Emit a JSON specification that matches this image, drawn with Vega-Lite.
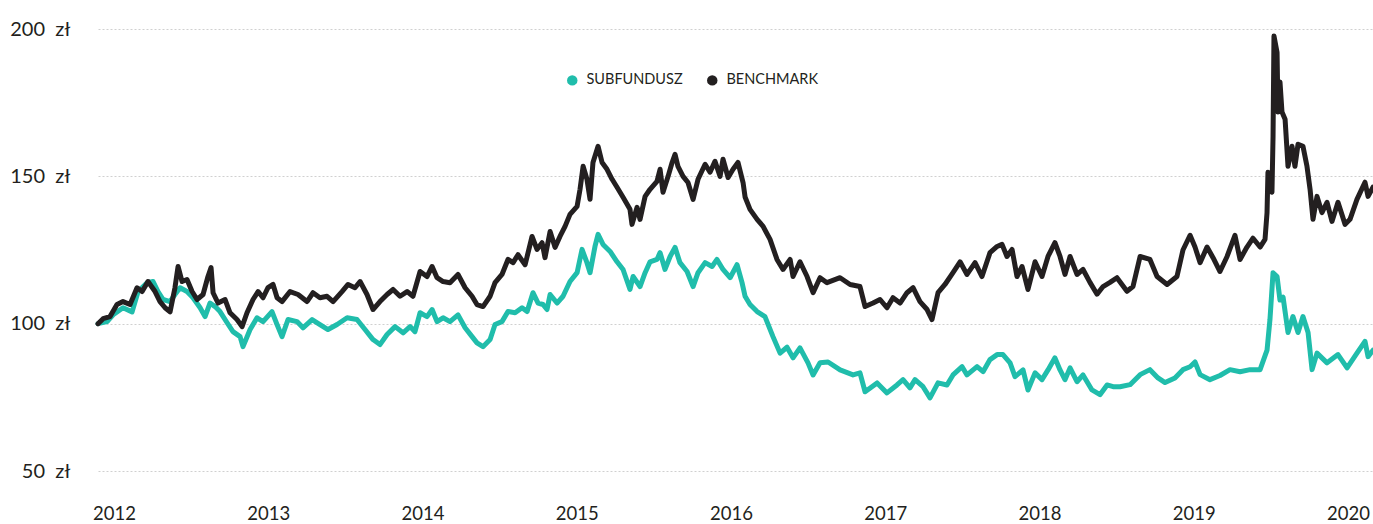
{
  "$schema": "https://vega.github.io/schema/vega-lite/v6.json",
  "width": 1275,
  "height": 442,
  "autosize": {"type": "none"},
  "padding": {"left": 98, "top": 29, "right": 0, "bottom": 53},
  "background": "white",
  "config": {
    "view": {"stroke": null},
    "font": "Lato",
    "axis": {"labelFont": "Lato", "labelColor": "#231f20", "domain": false, "ticks": false, "title": null}
  },
  "data": {"values": [
    {"s":"SUBFUNDUSZ","t":2011.896,"v":100},
    {"s":"SUBFUNDUSZ","t":2011.955,"v":100.7},
    {"s":"SUBFUNDUSZ","t":2011.994,"v":103},
    {"s":"SUBFUNDUSZ","t":2012.058,"v":105.4},
    {"s":"SUBFUNDUSZ","t":2012.117,"v":104},
    {"s":"SUBFUNDUSZ","t":2012.156,"v":110.9},
    {"s":"SUBFUNDUSZ","t":2012.214,"v":113.9},
    {"s":"SUBFUNDUSZ","t":2012.253,"v":114.3},
    {"s":"SUBFUNDUSZ","t":2012.285,"v":110.9},
    {"s":"SUBFUNDUSZ","t":2012.318,"v":108.2},
    {"s":"SUBFUNDUSZ","t":2012.363,"v":107.5},
    {"s":"SUBFUNDUSZ","t":2012.395,"v":109.9},
    {"s":"SUBFUNDUSZ","t":2012.428,"v":112.2},
    {"s":"SUBFUNDUSZ","t":2012.473,"v":110.9},
    {"s":"SUBFUNDUSZ","t":2012.512,"v":108.8},
    {"s":"SUBFUNDUSZ","t":2012.558,"v":105.4},
    {"s":"SUBFUNDUSZ","t":2012.590,"v":102.4},
    {"s":"SUBFUNDUSZ","t":2012.622,"v":107},
    {"s":"SUBFUNDUSZ","t":2012.655,"v":105.8},
    {"s":"SUBFUNDUSZ","t":2012.687,"v":104.1},
    {"s":"SUBFUNDUSZ","t":2012.733,"v":100.3},
    {"s":"SUBFUNDUSZ","t":2012.771,"v":97.3},
    {"s":"SUBFUNDUSZ","t":2012.817,"v":95.6},
    {"s":"SUBFUNDUSZ","t":2012.836,"v":92.2},
    {"s":"SUBFUNDUSZ","t":2012.882,"v":98},
    {"s":"SUBFUNDUSZ","t":2012.927,"v":102},
    {"s":"SUBFUNDUSZ","t":2012.966,"v":100.7},
    {"s":"SUBFUNDUSZ","t":2013.024,"v":104.1},
    {"s":"SUBFUNDUSZ","t":2013.057,"v":99.7},
    {"s":"SUBFUNDUSZ","t":2013.089,"v":95.6},
    {"s":"SUBFUNDUSZ","t":2013.128,"v":101.4},
    {"s":"SUBFUNDUSZ","t":2013.186,"v":100.7},
    {"s":"SUBFUNDUSZ","t":2013.225,"v":98.6},
    {"s":"SUBFUNDUSZ","t":2013.284,"v":101.4},
    {"s":"SUBFUNDUSZ","t":2013.335,"v":99.7},
    {"s":"SUBFUNDUSZ","t":2013.387,"v":98},
    {"s":"SUBFUNDUSZ","t":2013.446,"v":99.7},
    {"s":"SUBFUNDUSZ","t":2013.511,"v":102},
    {"s":"SUBFUNDUSZ","t":2013.575,"v":101.4},
    {"s":"SUBFUNDUSZ","t":2013.627,"v":98},
    {"s":"SUBFUNDUSZ","t":2013.679,"v":94.6},
    {"s":"SUBFUNDUSZ","t":2013.724,"v":92.9},
    {"s":"SUBFUNDUSZ","t":2013.770,"v":96.3},
    {"s":"SUBFUNDUSZ","t":2013.822,"v":99},
    {"s":"SUBFUNDUSZ","t":2013.874,"v":96.9},
    {"s":"SUBFUNDUSZ","t":2013.919,"v":99},
    {"s":"SUBFUNDUSZ","t":2013.951,"v":97.3},
    {"s":"SUBFUNDUSZ","t":2013.984,"v":103.7},
    {"s":"SUBFUNDUSZ","t":2014.029,"v":102.4},
    {"s":"SUBFUNDUSZ","t":2014.062,"v":104.8},
    {"s":"SUBFUNDUSZ","t":2014.094,"v":100.7},
    {"s":"SUBFUNDUSZ","t":2014.133,"v":102},
    {"s":"SUBFUNDUSZ","t":2014.178,"v":100.7},
    {"s":"SUBFUNDUSZ","t":2014.230,"v":103},
    {"s":"SUBFUNDUSZ","t":2014.276,"v":98.6},
    {"s":"SUBFUNDUSZ","t":2014.321,"v":95.6},
    {"s":"SUBFUNDUSZ","t":2014.353,"v":93.5},
    {"s":"SUBFUNDUSZ","t":2014.392,"v":92.2},
    {"s":"SUBFUNDUSZ","t":2014.438,"v":94.6},
    {"s":"SUBFUNDUSZ","t":2014.470,"v":99.7},
    {"s":"SUBFUNDUSZ","t":2014.515,"v":100.7},
    {"s":"SUBFUNDUSZ","t":2014.554,"v":104.1},
    {"s":"SUBFUNDUSZ","t":2014.600,"v":103.7},
    {"s":"SUBFUNDUSZ","t":2014.645,"v":105.4},
    {"s":"SUBFUNDUSZ","t":2014.678,"v":104.1},
    {"s":"SUBFUNDUSZ","t":2014.716,"v":110.5},
    {"s":"SUBFUNDUSZ","t":2014.749,"v":107},
    {"s":"SUBFUNDUSZ","t":2014.781,"v":106.5},
    {"s":"SUBFUNDUSZ","t":2014.807,"v":104.8},
    {"s":"SUBFUNDUSZ","t":2014.827,"v":109.9},
    {"s":"SUBFUNDUSZ","t":2014.872,"v":107},
    {"s":"SUBFUNDUSZ","t":2014.911,"v":109.3},
    {"s":"SUBFUNDUSZ","t":2014.956,"v":114.3},
    {"s":"SUBFUNDUSZ","t":2015.002,"v":117.3},
    {"s":"SUBFUNDUSZ","t":2015.034,"v":125.2},
    {"s":"SUBFUNDUSZ","t":2015.066,"v":120.7},
    {"s":"SUBFUNDUSZ","t":2015.086,"v":117.3},
    {"s":"SUBFUNDUSZ","t":2015.118,"v":126.2},
    {"s":"SUBFUNDUSZ","t":2015.138,"v":130.3},
    {"s":"SUBFUNDUSZ","t":2015.170,"v":126.9},
    {"s":"SUBFUNDUSZ","t":2015.216,"v":124.5},
    {"s":"SUBFUNDUSZ","t":2015.261,"v":121},
    {"s":"SUBFUNDUSZ","t":2015.300,"v":118.4},
    {"s":"SUBFUNDUSZ","t":2015.345,"v":111.6},
    {"s":"SUBFUNDUSZ","t":2015.365,"v":116},
    {"s":"SUBFUNDUSZ","t":2015.410,"v":112.6},
    {"s":"SUBFUNDUSZ","t":2015.443,"v":117.3},
    {"s":"SUBFUNDUSZ","t":2015.475,"v":121},
    {"s":"SUBFUNDUSZ","t":2015.520,"v":121.8},
    {"s":"SUBFUNDUSZ","t":2015.540,"v":124.1},
    {"s":"SUBFUNDUSZ","t":2015.572,"v":118.4},
    {"s":"SUBFUNDUSZ","t":2015.605,"v":122.8},
    {"s":"SUBFUNDUSZ","t":2015.637,"v":125.9},
    {"s":"SUBFUNDUSZ","t":2015.669,"v":120.7},
    {"s":"SUBFUNDUSZ","t":2015.715,"v":117.7},
    {"s":"SUBFUNDUSZ","t":2015.754,"v":112.6},
    {"s":"SUBFUNDUSZ","t":2015.786,"v":117.3},
    {"s":"SUBFUNDUSZ","t":2015.832,"v":120.7},
    {"s":"SUBFUNDUSZ","t":2015.877,"v":119.4},
    {"s":"SUBFUNDUSZ","t":2015.909,"v":121.8},
    {"s":"SUBFUNDUSZ","t":2015.948,"v":118.4},
    {"s":"SUBFUNDUSZ","t":2015.994,"v":115.6},
    {"s":"SUBFUNDUSZ","t":2016.039,"v":120},
    {"s":"SUBFUNDUSZ","t":2016.071,"v":114},
    {"s":"SUBFUNDUSZ","t":2016.091,"v":109.3},
    {"s":"SUBFUNDUSZ","t":2016.123,"v":106.5},
    {"s":"SUBFUNDUSZ","t":2016.169,"v":104.1},
    {"s":"SUBFUNDUSZ","t":2016.220,"v":102.4},
    {"s":"SUBFUNDUSZ","t":2016.272,"v":95.6},
    {"s":"SUBFUNDUSZ","t":2016.318,"v":90},
    {"s":"SUBFUNDUSZ","t":2016.363,"v":92},
    {"s":"SUBFUNDUSZ","t":2016.402,"v":88.4},
    {"s":"SUBFUNDUSZ","t":2016.447,"v":91.8},
    {"s":"SUBFUNDUSZ","t":2016.499,"v":86.7},
    {"s":"SUBFUNDUSZ","t":2016.532,"v":82.6},
    {"s":"SUBFUNDUSZ","t":2016.577,"v":86.7},
    {"s":"SUBFUNDUSZ","t":2016.629,"v":87},
    {"s":"SUBFUNDUSZ","t":2016.707,"v":84.3},
    {"s":"SUBFUNDUSZ","t":2016.791,"v":82.6},
    {"s":"SUBFUNDUSZ","t":2016.836,"v":83.3},
    {"s":"SUBFUNDUSZ","t":2016.869,"v":76.9},
    {"s":"SUBFUNDUSZ","t":2016.947,"v":79.9},
    {"s":"SUBFUNDUSZ","t":2017.011,"v":76.5},
    {"s":"SUBFUNDUSZ","t":2017.076,"v":79.2},
    {"s":"SUBFUNDUSZ","t":2017.115,"v":81},
    {"s":"SUBFUNDUSZ","t":2017.160,"v":78.2},
    {"s":"SUBFUNDUSZ","t":2017.193,"v":81},
    {"s":"SUBFUNDUSZ","t":2017.245,"v":78.6},
    {"s":"SUBFUNDUSZ","t":2017.290,"v":74.8},
    {"s":"SUBFUNDUSZ","t":2017.342,"v":79.9},
    {"s":"SUBFUNDUSZ","t":2017.400,"v":79.2},
    {"s":"SUBFUNDUSZ","t":2017.439,"v":82.6},
    {"s":"SUBFUNDUSZ","t":2017.498,"v":85.4},
    {"s":"SUBFUNDUSZ","t":2017.530,"v":82.6},
    {"s":"SUBFUNDUSZ","t":2017.595,"v":85.4},
    {"s":"SUBFUNDUSZ","t":2017.634,"v":83.7},
    {"s":"SUBFUNDUSZ","t":2017.679,"v":87.8},
    {"s":"SUBFUNDUSZ","t":2017.725,"v":89.5},
    {"s":"SUBFUNDUSZ","t":2017.763,"v":89.5},
    {"s":"SUBFUNDUSZ","t":2017.809,"v":86.7},
    {"s":"SUBFUNDUSZ","t":2017.841,"v":82},
    {"s":"SUBFUNDUSZ","t":2017.893,"v":84.3},
    {"s":"SUBFUNDUSZ","t":2017.925,"v":77.5},
    {"s":"SUBFUNDUSZ","t":2017.971,"v":83.3},
    {"s":"SUBFUNDUSZ","t":2018.016,"v":81},
    {"s":"SUBFUNDUSZ","t":2018.055,"v":84.3},
    {"s":"SUBFUNDUSZ","t":2018.100,"v":88.4},
    {"s":"SUBFUNDUSZ","t":2018.133,"v":84.3},
    {"s":"SUBFUNDUSZ","t":2018.165,"v":81},
    {"s":"SUBFUNDUSZ","t":2018.198,"v":85},
    {"s":"SUBFUNDUSZ","t":2018.243,"v":80.3},
    {"s":"SUBFUNDUSZ","t":2018.282,"v":82.6},
    {"s":"SUBFUNDUSZ","t":2018.340,"v":77.5},
    {"s":"SUBFUNDUSZ","t":2018.392,"v":75.9},
    {"s":"SUBFUNDUSZ","t":2018.438,"v":79.2},
    {"s":"SUBFUNDUSZ","t":2018.477,"v":78.6},
    {"s":"SUBFUNDUSZ","t":2018.522,"v":78.6},
    {"s":"SUBFUNDUSZ","t":2018.587,"v":79.3},
    {"s":"SUBFUNDUSZ","t":2018.652,"v":82.7},
    {"s":"SUBFUNDUSZ","t":2018.716,"v":84.4},
    {"s":"SUBFUNDUSZ","t":2018.768,"v":81.6},
    {"s":"SUBFUNDUSZ","t":2018.814,"v":80},
    {"s":"SUBFUNDUSZ","t":2018.878,"v":81.6},
    {"s":"SUBFUNDUSZ","t":2018.930,"v":84.4},
    {"s":"SUBFUNDUSZ","t":2018.976,"v":85.4},
    {"s":"SUBFUNDUSZ","t":2019.008,"v":87},
    {"s":"SUBFUNDUSZ","t":2019.041,"v":82.7},
    {"s":"SUBFUNDUSZ","t":2019.105,"v":81},
    {"s":"SUBFUNDUSZ","t":2019.170,"v":82.4},
    {"s":"SUBFUNDUSZ","t":2019.235,"v":84.4},
    {"s":"SUBFUNDUSZ","t":2019.300,"v":83.7},
    {"s":"SUBFUNDUSZ","t":2019.365,"v":84.4},
    {"s":"SUBFUNDUSZ","t":2019.430,"v":84.4},
    {"s":"SUBFUNDUSZ","t":2019.475,"v":91},
    {"s":"SUBFUNDUSZ","t":2019.494,"v":101.4},
    {"s":"SUBFUNDUSZ","t":2019.514,"v":117.3},
    {"s":"SUBFUNDUSZ","t":2019.540,"v":116},
    {"s":"SUBFUNDUSZ","t":2019.559,"v":108},
    {"s":"SUBFUNDUSZ","t":2019.579,"v":109},
    {"s":"SUBFUNDUSZ","t":2019.611,"v":97},
    {"s":"SUBFUNDUSZ","t":2019.643,"v":102.4},
    {"s":"SUBFUNDUSZ","t":2019.676,"v":97},
    {"s":"SUBFUNDUSZ","t":2019.708,"v":102.4},
    {"s":"SUBFUNDUSZ","t":2019.741,"v":97},
    {"s":"SUBFUNDUSZ","t":2019.767,"v":84.4},
    {"s":"SUBFUNDUSZ","t":2019.799,"v":90},
    {"s":"SUBFUNDUSZ","t":2019.864,"v":86.7},
    {"s":"SUBFUNDUSZ","t":2019.935,"v":89.5},
    {"s":"SUBFUNDUSZ","t":2019.994,"v":85},
    {"s":"SUBFUNDUSZ","t":2020.058,"v":90},
    {"s":"SUBFUNDUSZ","t":2020.110,"v":94},
    {"s":"SUBFUNDUSZ","t":2020.130,"v":88.8},
    {"s":"SUBFUNDUSZ","t":2020.162,"v":91},
    {"s":"BENCHMARK","t":2011.896,"v":100},
    {"s":"BENCHMARK","t":2011.929,"v":101.7},
    {"s":"BENCHMARK","t":2011.974,"v":102.4},
    {"s":"BENCHMARK","t":2012.019,"v":106.5},
    {"s":"BENCHMARK","t":2012.058,"v":107.5},
    {"s":"BENCHMARK","t":2012.104,"v":106.5},
    {"s":"BENCHMARK","t":2012.149,"v":112.2},
    {"s":"BENCHMARK","t":2012.182,"v":110.9},
    {"s":"BENCHMARK","t":2012.220,"v":114.3},
    {"s":"BENCHMARK","t":2012.266,"v":110.9},
    {"s":"BENCHMARK","t":2012.298,"v":107.5},
    {"s":"BENCHMARK","t":2012.331,"v":105.4},
    {"s":"BENCHMARK","t":2012.363,"v":104},
    {"s":"BENCHMARK","t":2012.395,"v":112.2},
    {"s":"BENCHMARK","t":2012.415,"v":119.4},
    {"s":"BENCHMARK","t":2012.441,"v":114.3},
    {"s":"BENCHMARK","t":2012.473,"v":115},
    {"s":"BENCHMARK","t":2012.506,"v":110.9},
    {"s":"BENCHMARK","t":2012.538,"v":108.2},
    {"s":"BENCHMARK","t":2012.577,"v":109.9},
    {"s":"BENCHMARK","t":2012.609,"v":116},
    {"s":"BENCHMARK","t":2012.629,"v":119},
    {"s":"BENCHMARK","t":2012.642,"v":110.5},
    {"s":"BENCHMARK","t":2012.674,"v":107},
    {"s":"BENCHMARK","t":2012.720,"v":108.2},
    {"s":"BENCHMARK","t":2012.752,"v":103.7},
    {"s":"BENCHMARK","t":2012.797,"v":101.4},
    {"s":"BENCHMARK","t":2012.830,"v":99},
    {"s":"BENCHMARK","t":2012.862,"v":103.7},
    {"s":"BENCHMARK","t":2012.901,"v":108.2},
    {"s":"BENCHMARK","t":2012.934,"v":110.9},
    {"s":"BENCHMARK","t":2012.966,"v":108.8},
    {"s":"BENCHMARK","t":2012.998,"v":112.2},
    {"s":"BENCHMARK","t":2013.031,"v":113.3},
    {"s":"BENCHMARK","t":2013.057,"v":108.8},
    {"s":"BENCHMARK","t":2013.089,"v":107.5},
    {"s":"BENCHMARK","t":2013.141,"v":110.9},
    {"s":"BENCHMARK","t":2013.193,"v":109.9},
    {"s":"BENCHMARK","t":2013.251,"v":107.5},
    {"s":"BENCHMARK","t":2013.290,"v":110.5},
    {"s":"BENCHMARK","t":2013.335,"v":108.8},
    {"s":"BENCHMARK","t":2013.381,"v":109.3},
    {"s":"BENCHMARK","t":2013.420,"v":107.5},
    {"s":"BENCHMARK","t":2013.478,"v":110.9},
    {"s":"BENCHMARK","t":2013.517,"v":113.3},
    {"s":"BENCHMARK","t":2013.562,"v":112.2},
    {"s":"BENCHMARK","t":2013.595,"v":114.3},
    {"s":"BENCHMARK","t":2013.640,"v":109.9},
    {"s":"BENCHMARK","t":2013.679,"v":104.8},
    {"s":"BENCHMARK","t":2013.724,"v":107.5},
    {"s":"BENCHMARK","t":2013.770,"v":109.9},
    {"s":"BENCHMARK","t":2013.809,"v":111.6},
    {"s":"BENCHMARK","t":2013.854,"v":109.3},
    {"s":"BENCHMARK","t":2013.900,"v":110.9},
    {"s":"BENCHMARK","t":2013.938,"v":109.3},
    {"s":"BENCHMARK","t":2013.984,"v":117.7},
    {"s":"BENCHMARK","t":2014.029,"v":116},
    {"s":"BENCHMARK","t":2014.062,"v":119.4},
    {"s":"BENCHMARK","t":2014.094,"v":115.6},
    {"s":"BENCHMARK","t":2014.133,"v":114.3},
    {"s":"BENCHMARK","t":2014.178,"v":113.9},
    {"s":"BENCHMARK","t":2014.230,"v":116.7},
    {"s":"BENCHMARK","t":2014.276,"v":112.2},
    {"s":"BENCHMARK","t":2014.321,"v":109.3},
    {"s":"BENCHMARK","t":2014.353,"v":106.5},
    {"s":"BENCHMARK","t":2014.392,"v":105.8},
    {"s":"BENCHMARK","t":2014.438,"v":109.3},
    {"s":"BENCHMARK","t":2014.470,"v":113.9},
    {"s":"BENCHMARK","t":2014.515,"v":116.7},
    {"s":"BENCHMARK","t":2014.554,"v":121.8},
    {"s":"BENCHMARK","t":2014.587,"v":120.7},
    {"s":"BENCHMARK","t":2014.619,"v":123.4},
    {"s":"BENCHMARK","t":2014.665,"v":120},
    {"s":"BENCHMARK","t":2014.710,"v":129.6},
    {"s":"BENCHMARK","t":2014.742,"v":125.2},
    {"s":"BENCHMARK","t":2014.775,"v":127.5},
    {"s":"BENCHMARK","t":2014.794,"v":122.4},
    {"s":"BENCHMARK","t":2014.827,"v":131.3},
    {"s":"BENCHMARK","t":2014.859,"v":125.9},
    {"s":"BENCHMARK","t":2014.891,"v":129.6},
    {"s":"BENCHMARK","t":2014.924,"v":133},
    {"s":"BENCHMARK","t":2014.956,"v":137.1},
    {"s":"BENCHMARK","t":2015.002,"v":139.8},
    {"s":"BENCHMARK","t":2015.021,"v":145.6},
    {"s":"BENCHMARK","t":2015.041,"v":153.4},
    {"s":"BENCHMARK","t":2015.066,"v":149},
    {"s":"BENCHMARK","t":2015.086,"v":142.2},
    {"s":"BENCHMARK","t":2015.105,"v":154.7},
    {"s":"BENCHMARK","t":2015.138,"v":160.2},
    {"s":"BENCHMARK","t":2015.164,"v":154.7},
    {"s":"BENCHMARK","t":2015.196,"v":152.4},
    {"s":"BENCHMARK","t":2015.229,"v":149},
    {"s":"BENCHMARK","t":2015.261,"v":146.3},
    {"s":"BENCHMARK","t":2015.300,"v":142.9},
    {"s":"BENCHMARK","t":2015.345,"v":138.8},
    {"s":"BENCHMARK","t":2015.358,"v":133.7},
    {"s":"BENCHMARK","t":2015.391,"v":139.5},
    {"s":"BENCHMARK","t":2015.410,"v":135.4},
    {"s":"BENCHMARK","t":2015.443,"v":143.2},
    {"s":"BENCHMARK","t":2015.475,"v":145.6},
    {"s":"BENCHMARK","t":2015.520,"v":148.3},
    {"s":"BENCHMARK","t":2015.540,"v":152.4},
    {"s":"BENCHMARK","t":2015.559,"v":144.6},
    {"s":"BENCHMARK","t":2015.592,"v":150},
    {"s":"BENCHMARK","t":2015.618,"v":154.7},
    {"s":"BENCHMARK","t":2015.637,"v":157.5},
    {"s":"BENCHMARK","t":2015.656,"v":153.4},
    {"s":"BENCHMARK","t":2015.689,"v":150},
    {"s":"BENCHMARK","t":2015.721,"v":147.9},
    {"s":"BENCHMARK","t":2015.754,"v":142.2},
    {"s":"BENCHMARK","t":2015.786,"v":149},
    {"s":"BENCHMARK","t":2015.832,"v":154.1},
    {"s":"BENCHMARK","t":2015.864,"v":151.4},
    {"s":"BENCHMARK","t":2015.896,"v":155.1},
    {"s":"BENCHMARK","t":2015.929,"v":150},
    {"s":"BENCHMARK","t":2015.948,"v":155.8},
    {"s":"BENCHMARK","t":2015.981,"v":149.6},
    {"s":"BENCHMARK","t":2016.013,"v":152.4},
    {"s":"BENCHMARK","t":2016.045,"v":154.7},
    {"s":"BENCHMARK","t":2016.078,"v":147.9},
    {"s":"BENCHMARK","t":2016.091,"v":143},
    {"s":"BENCHMARK","t":2016.123,"v":138.8},
    {"s":"BENCHMARK","t":2016.169,"v":135.4},
    {"s":"BENCHMARK","t":2016.208,"v":133},
    {"s":"BENCHMARK","t":2016.253,"v":128.6},
    {"s":"BENCHMARK","t":2016.298,"v":121.8},
    {"s":"BENCHMARK","t":2016.337,"v":118.4},
    {"s":"BENCHMARK","t":2016.383,"v":121.8},
    {"s":"BENCHMARK","t":2016.402,"v":116},
    {"s":"BENCHMARK","t":2016.447,"v":121},
    {"s":"BENCHMARK","t":2016.493,"v":116},
    {"s":"BENCHMARK","t":2016.532,"v":110.5},
    {"s":"BENCHMARK","t":2016.577,"v":115.6},
    {"s":"BENCHMARK","t":2016.622,"v":113.9},
    {"s":"BENCHMARK","t":2016.707,"v":115.6},
    {"s":"BENCHMARK","t":2016.772,"v":113.3},
    {"s":"BENCHMARK","t":2016.836,"v":112.6},
    {"s":"BENCHMARK","t":2016.869,"v":105.8},
    {"s":"BENCHMARK","t":2016.921,"v":107},
    {"s":"BENCHMARK","t":2016.966,"v":108.2},
    {"s":"BENCHMARK","t":2017.011,"v":105.4},
    {"s":"BENCHMARK","t":2017.050,"v":108.8},
    {"s":"BENCHMARK","t":2017.096,"v":107},
    {"s":"BENCHMARK","t":2017.141,"v":110.5},
    {"s":"BENCHMARK","t":2017.180,"v":112.2},
    {"s":"BENCHMARK","t":2017.225,"v":107.5},
    {"s":"BENCHMARK","t":2017.271,"v":104.8},
    {"s":"BENCHMARK","t":2017.303,"v":101.4},
    {"s":"BENCHMARK","t":2017.342,"v":110.5},
    {"s":"BENCHMARK","t":2017.387,"v":113.3},
    {"s":"BENCHMARK","t":2017.439,"v":117.3},
    {"s":"BENCHMARK","t":2017.485,"v":121},
    {"s":"BENCHMARK","t":2017.530,"v":116.7},
    {"s":"BENCHMARK","t":2017.582,"v":120.7},
    {"s":"BENCHMARK","t":2017.627,"v":116},
    {"s":"BENCHMARK","t":2017.679,"v":124.1},
    {"s":"BENCHMARK","t":2017.725,"v":126.2},
    {"s":"BENCHMARK","t":2017.757,"v":126.9},
    {"s":"BENCHMARK","t":2017.789,"v":122.8},
    {"s":"BENCHMARK","t":2017.822,"v":125.2},
    {"s":"BENCHMARK","t":2017.854,"v":116},
    {"s":"BENCHMARK","t":2017.887,"v":119.4},
    {"s":"BENCHMARK","t":2017.925,"v":111.6},
    {"s":"BENCHMARK","t":2017.971,"v":121},
    {"s":"BENCHMARK","t":2018.016,"v":116},
    {"s":"BENCHMARK","t":2018.055,"v":122.8},
    {"s":"BENCHMARK","t":2018.100,"v":127.5},
    {"s":"BENCHMARK","t":2018.133,"v":122.8},
    {"s":"BENCHMARK","t":2018.165,"v":116.7},
    {"s":"BENCHMARK","t":2018.198,"v":122.8},
    {"s":"BENCHMARK","t":2018.243,"v":116.7},
    {"s":"BENCHMARK","t":2018.282,"v":118.4},
    {"s":"BENCHMARK","t":2018.327,"v":114},
    {"s":"BENCHMARK","t":2018.373,"v":110},
    {"s":"BENCHMARK","t":2018.412,"v":112.6},
    {"s":"BENCHMARK","t":2018.457,"v":114},
    {"s":"BENCHMARK","t":2018.502,"v":115.6},
    {"s":"BENCHMARK","t":2018.567,"v":111},
    {"s":"BENCHMARK","t":2018.606,"v":112.6},
    {"s":"BENCHMARK","t":2018.652,"v":122.8},
    {"s":"BENCHMARK","t":2018.716,"v":121.8},
    {"s":"BENCHMARK","t":2018.762,"v":116},
    {"s":"BENCHMARK","t":2018.827,"v":113.3},
    {"s":"BENCHMARK","t":2018.891,"v":116},
    {"s":"BENCHMARK","t":2018.930,"v":125},
    {"s":"BENCHMARK","t":2018.976,"v":130},
    {"s":"BENCHMARK","t":2019.008,"v":126},
    {"s":"BENCHMARK","t":2019.041,"v":120.7},
    {"s":"BENCHMARK","t":2019.086,"v":126},
    {"s":"BENCHMARK","t":2019.125,"v":122.4},
    {"s":"BENCHMARK","t":2019.170,"v":117.7},
    {"s":"BENCHMARK","t":2019.216,"v":122.8},
    {"s":"BENCHMARK","t":2019.267,"v":130},
    {"s":"BENCHMARK","t":2019.300,"v":121.8},
    {"s":"BENCHMARK","t":2019.345,"v":126},
    {"s":"BENCHMARK","t":2019.384,"v":129},
    {"s":"BENCHMARK","t":2019.430,"v":126},
    {"s":"BENCHMARK","t":2019.462,"v":128.6},
    {"s":"BENCHMARK","t":2019.475,"v":137.7},
    {"s":"BENCHMARK","t":2019.481,"v":151.4},
    {"s":"BENCHMARK","t":2019.507,"v":144.6},
    {"s":"BENCHMARK","t":2019.514,"v":163.6},
    {"s":"BENCHMARK","t":2019.520,"v":197.6},
    {"s":"BENCHMARK","t":2019.540,"v":192},
    {"s":"BENCHMARK","t":2019.546,"v":171.8},
    {"s":"BENCHMARK","t":2019.559,"v":182},
    {"s":"BENCHMARK","t":2019.572,"v":171.8},
    {"s":"BENCHMARK","t":2019.592,"v":169.4},
    {"s":"BENCHMARK","t":2019.611,"v":153.4},
    {"s":"BENCHMARK","t":2019.637,"v":160.2},
    {"s":"BENCHMARK","t":2019.656,"v":153.4},
    {"s":"BENCHMARK","t":2019.676,"v":160.9},
    {"s":"BENCHMARK","t":2019.708,"v":160.2},
    {"s":"BENCHMARK","t":2019.734,"v":153.4},
    {"s":"BENCHMARK","t":2019.754,"v":145.6},
    {"s":"BENCHMARK","t":2019.773,"v":135.4},
    {"s":"BENCHMARK","t":2019.799,"v":143.2},
    {"s":"BENCHMARK","t":2019.831,"v":137.7},
    {"s":"BENCHMARK","t":2019.864,"v":141.2},
    {"s":"BENCHMARK","t":2019.896,"v":134.7},
    {"s":"BENCHMARK","t":2019.935,"v":141.2},
    {"s":"BENCHMARK","t":2019.981,"v":133.7},
    {"s":"BENCHMARK","t":2020.013,"v":135.4},
    {"s":"BENCHMARK","t":2020.058,"v":142.2},
    {"s":"BENCHMARK","t":2020.110,"v":148},
    {"s":"BENCHMARK","t":2020.130,"v":143.2},
    {"s":"BENCHMARK","t":2020.162,"v":146.3}
  ]},
  "mark": {"type": "line", "strokeWidth": 5, "strokeJoin": "round", "strokeCap": "round", "clip": false},
  "encoding": {
    "x": {
      "field": "t", "type": "quantitative",
      "scale": {"domain": [2011.896, 2020.162], "nice": false, "zero": false},
      "axis": {"values": [2012, 2013, 2014, 2015, 2016, 2017, 2018, 2019, 2020], "format": "d", "grid": false, "labelFontSize": 18.5, "labelPadding": 33, "labelFlush": false}
    },
    "y": {
      "field": "v", "type": "quantitative",
      "scale": {"domain": [50, 200], "nice": false, "zero": false},
      "axis": {"values": [50, 100, 150, 200], "labelExpr": "datum.value + '\u00a0\u00a0zł'", "labelFontSize": 20, "labelPadding": 28, "grid": true, "gridDash": [2, 2], "gridColor": "#d0d0d0", "gridWidth": 1}
    },
    "color": {
      "field": "s", "type": "nominal",
      "scale": {"domain": ["SUBFUNDUSZ", "BENCHMARK"], "range": ["#20bdab", "#231f20"]},
      "legend": {
        "title": null, "orient": "none", "direction": "horizontal",
        "legendX": 467, "legendY": 44,
        "symbolType": "circle", "symbolSize": 110, "symbolStrokeWidth": 0,
        "labelFont": "Lato", "labelFontSize": 14.5, "labelColor": "#231f20", "labelOffset": 7, "columnPadding": 22,
        "encode": {"symbols": {"update": {"fill": {"scale": "color", "field": "value"}, "fillOpacity": {"value": 1}}}}
      }
    }
  }
}
